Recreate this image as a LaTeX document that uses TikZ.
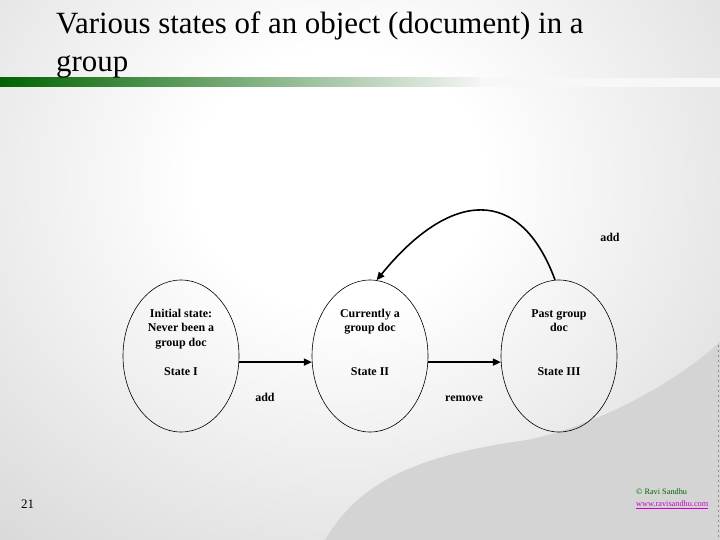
\documentclass[tikz,border=0pt]{standalone}
\usepackage{fontspec}
\setmainfont{Liberation Serif}
\usetikzlibrary{arrows,arrows.meta,shapes.geometric,positioning,calc}

\definecolor{slidegreen}{RGB}{0,100,0}
\definecolor{linkpink}{RGB}{204,0,204}
\pgfdeclareradialshading{slideglow}{\pgfpoint{0bp}{0bp}}{color(0bp)=(white); color(8bp)=(white); color(40bp)=(black!22); color(72bp)=(black!34)}

\begin{document}
\begin{tikzpicture}[x=1bp,y=-1bp,align=center,node distance=14bp]
\tikzstyle{state}=[ellipse,draw=black,line width=0.6bp,minimum width=116bp,minimum height=152bp,inner sep=0pt]
\tikzstyle{statetext}=[font=\bfseries\fontsize{12}{14.5}\selectfont,inner sep=0pt]
\tikzstyle{move}=[-{Triangle[length=8bp,width=7bp]},line width=1.6bp]
\tikzstyle{movelabel}=[font=\bfseries\fontsize{12}{14}\selectfont,inner sep=0pt,anchor=base]

% slide background
\useasboundingbox (0,0) rectangle (720,540);
\begin{scope}
  \clip (0,0) rectangle (720,540);
  \shade[shading=slideglow] (-110,-220) rectangle (790,580);
  \fill[black!17] (325,540) .. controls (360,480) and (420,455) .. (527,440)
    .. controls (600,425) and (680,380) .. (722,340) -- (722,540) -- cycle;
  \draw[black!45,line width=0.8bp,dash pattern=on 2bp off 3bp] (718,345) -- (718,540);
  \shade[left color=slidegreen,right color=black!4] (0,78) rectangle (480,87);
  \fill[black!3] (480,78) rectangle (720,87);
\end{scope}

% title
\node[anchor=base west,inner sep=0pt,font=\fontsize{31}{39}\selectfont] (title1) at (56,34) {Various states of an object (document) in a};
\node[anchor=base west,inner sep=0pt,font=\fontsize{31}{39}\selectfont] (title2) at (56,72) {group};

% states
\node[state] (s1) at (181,356) {};
\node[state] (s2) at (370,356) {};
\node[state] (s3) at (559,356) {};

\node[statetext,anchor=north] (s1text) at (181,309) {Initial state:\\Never been a\\group doc};
\node[statetext,anchor=north] (s2text) at (370,309) {Currently a\\group doc};
\node[statetext,anchor=north] (s3text) at (559,309) {Past group\\doc};

\node[statetext,anchor=base] (s1name) at (181,375) {State I};
\node[statetext,anchor=base] (s2name) at (370,375) {State II};
\node[statetext,anchor=base] (s3name) at (559,375) {State III};

% transitions
\draw[move] (s1.-6) -- (s2.-174);
\draw[move] (s2.-6) -- (s3.-174);
\draw[move] (s3.93) .. controls (520,185) and (450,190) .. (s2.85);

\node[movelabel] (addone) at (265,401) {add};
\node[movelabel] (removeone) at (464,401) {remove};
\node[movelabel] (addtwo) at (610,242) {add};

% footer
\node[inner sep=0pt,font=\fontsize{13}{15}\selectfont] (pagenum) at (27.5,504) {21};
\node[anchor=west,inner sep=0pt,text=slidegreen,font=\fontsize{8.3}{10}\selectfont] (copyright) at (636,492) {© Ravi Sandhu};
\node[anchor=west,inner sep=0pt,text=linkpink,font=\fontsize{8.3}{10}\selectfont] (website) at (636,505) {\underline{www.ravisandhu.com}};
\end{tikzpicture}
\end{document}
